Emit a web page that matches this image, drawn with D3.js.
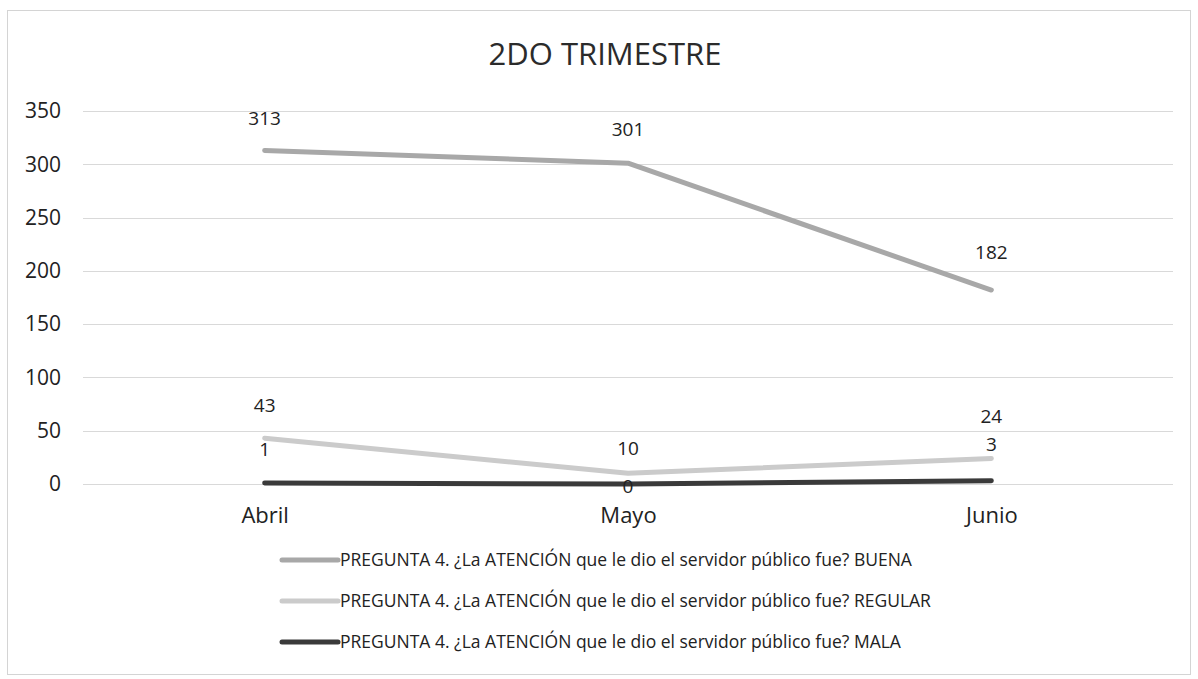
<!DOCTYPE html>
<html>
<head>
<meta charset="utf-8">
<script src="https://cdn.jsdelivr.net/npm/d3@7"></script>
<style>
  html, body { margin: 0; padding: 0; background: #fff; }
  svg { display: block; font-family: "Open Sans", "Noto Sans", sans-serif; }
</style>
</head>
<body>
<script>
'use strict';

// chart data
var months = ["Abril", "Mayo", "Junio"];
var buena = [313, 301, 182];
var regular = [43, 10, 24];
var mala = [1, 0, 3];
var yTicks = [0, 50, 100, 150, 200, 250, 300, 350];
var seriesNames = [
   "PREGUNTA 4. \u00bfLa ATENCI\u00d3N que le dio el servidor p\u00fablico fue? BUENA",
   "PREGUNTA 4. \u00bfLa ATENCI\u00d3N que le dio el servidor p\u00fablico fue? REGULAR",
   "PREGUNTA 4. \u00bfLa ATENCI\u00d3N que le dio el servidor p\u00fablico fue? MALA"
];

// how far above the point each data label sits (negative = below)
var labelLift = [
   [32, 34, 38],
   [33, 25, 42],
   [34, -2, 37]
];

var width = 1198, height = 679;
var colors = ["#a8a8a8", "#cbcbcb", "#3a3a3a"];

var series = [buena, regular, mala].map(function(vals, i){
   return { name: seriesNames[i], values: vals, color: colors[i], lift: labelLift[i] };
});

var svg = d3.select("body").append("svg")
   .attr("width", width)
   .attr("height", height);

// outer chart frame
svg.append("rect")
   .attr("x", 7.5).attr("y", 10.5)
   .attr("width", 1183).attr("height", 664)
   .attr("fill", "none")
   .attr("stroke", "#d4d4d4");

svg.append("text")
   .attr("x", 605).attr("y", 65)
   .attr("text-anchor", "middle")
   .attr("font-size", 31)
   .attr("fill", "#2b2b2b")
   .text("2DO TRIMESTRE");

var x = d3.scalePoint()
   .domain(months)
   .range([83, 1173])
   .padding(0.5);

var y = d3.scaleLinear()
   .domain([0, 350])
   .range([484, 111]);

// gridlines
svg.append("g").selectAll("line")
   .data(yTicks)
   .enter().append("line")
   .attr("x1", 83).attr("x2", 1173)
   .attr("y1", function(d){ return Math.round(y(d)) + 0.5; })
   .attr("y2", function(d){ return Math.round(y(d)) + 0.5; })
   .attr("stroke", "#d9d9d9")
   .attr("stroke-width", 1);

var yAxis = svg.append("g")
   .attr("transform", "translate(68,0)")
   .call(d3.axisLeft(y).tickValues(yTicks).tickSize(0).tickPadding(7));
yAxis.select(".domain").remove();
yAxis.selectAll("text")
   .attr("font-size", 21)
   .attr("font-family", "Open Sans, Noto Sans, sans-serif")
   .attr("fill", "#222");

var xAxis = svg.append("g")
   .attr("transform", "translate(0,503)")
   .call(d3.axisBottom(x).tickSize(0).tickPadding(4));
xAxis.select(".domain").remove();
xAxis.selectAll("text")
   .attr("font-size", 22)
   .attr("font-family", "Open Sans, Noto Sans, sans-serif")
   .attr("fill", "#222");

var lineFunction = d3.line()
   .x(function(d, i){ return x(months[i]); })
   .y(function(d){ return y(d); });

svg.append("g").selectAll("path")
   .data(series)
   .enter().append("path")
   .attr("d", function(s){ return lineFunction(s.values); })
   .attr("fill", "none")
   .attr("stroke", function(s){ return s.color; })
   .attr("stroke-width", 5)
   .attr("stroke-linecap", "round")
   .attr("stroke-linejoin", "round");

// data labels
series.forEach(function(s){
   svg.append("g").selectAll("text")
      .data(s.values)
      .enter().append("text")
      .attr("x", function(d, i){ return x(months[i]); })
      .attr("y", function(d, i){ return y(d) - s.lift[i]; })
      .attr("dy", "0.36em")
      .attr("text-anchor", "middle")
      .attr("font-size", 19)
      .attr("fill", "#222")
      .text(function(d){ return d; });
});

// legend
var legend = svg.append("g").selectAll("g")
   .data(series)
   .enter().append("g")
   .attr("transform", function(d, i){ return "translate(282," + (560 + i * 41) + ")"; });

legend.append("line")
   .attr("x1", 0).attr("x2", 56)
   .attr("stroke", function(d){ return d.color; })
   .attr("stroke-width", 5)
   .attr("stroke-linecap", "round");

legend.append("text")
   .attr("x", 58)
   .attr("dy", "0.36em")
   .attr("font-size", 17.5)
   .attr("fill", "#222")
   .text(function(d){ return d.name; });
</script>
</body>
</html>
